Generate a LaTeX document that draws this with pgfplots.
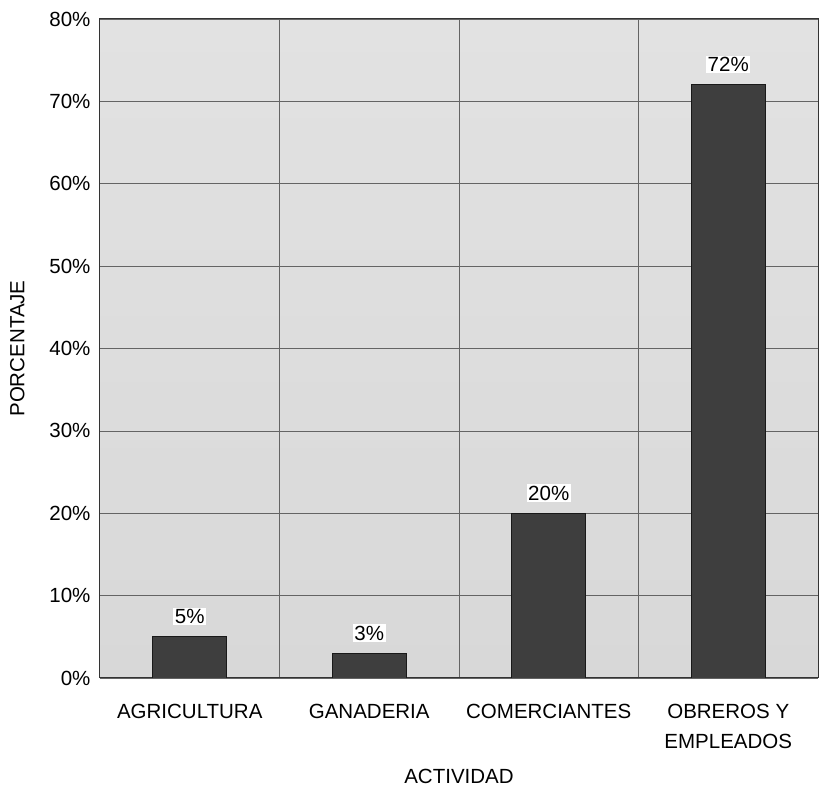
\documentclass[border=0pt]{standalone}
\usepackage{pgfplots}
\pgfplotsset{compat=1.18}
\usepackage{fontspec}
\setmainfont{Liberation Sans}
\definecolor{bgtop}{RGB}{226,226,226}
\definecolor{bgbot}{RGB}{216,216,216}
\definecolor{barc}{RGB}{62,62,62}
\definecolor{gridc}{RGB}{100,100,100}
\begin{document}
\begin{tikzpicture}
\useasboundingbox[fill=white] (-100pt,-114pt) rectangle (723pt,678pt);
\begin{axis}[
  scale only axis,
  width=718pt, height=659pt,
  xmin=0.5, xmax=4.5,
  ymin=0, ymax=80,
  ytick={0,10,...,80},
  yticklabel={\pgfmathprintnumber{\tick}\%},
  xtick={1,2,3,4},
  xticklabels={AGRICULTURA,GANADERIA,COMERCIANTES,{OBREROS Y\\EMPLEADOS}},
  xticklabel style={align=center, anchor=north, yshift=-23pt},
  yticklabel style={xshift=-6pt},
  minor xtick={1.5,2.5,3.5},
  major tick length=0pt, minor tick length=0pt,
  ymajorgrids, xminorgrids,
  major grid style={gridc, line width=0.7pt},
  minor grid style={gridc, line width=0.7pt},
  axis line style={black!80, line width=1pt},
  axis background/.style={top color=bgtop, bottom color=bgbot},
  font=\fontsize{20.5}{29.5}\selectfont,
  /pgf/number format/assume math mode=true,
  xlabel={ACTIVIDAD},
  ylabel={PORCENTAJE},
  xlabel style={yshift=-14pt},
  ylabel style={yshift=18pt},
  ybar, bar width=74pt,
  nodes near coords={\pgfmathprintnumber{\pgfplotspointmeta}\%},
  every node near coord/.style={anchor=south, yshift=11pt, fill=white, inner sep=1.5pt, font=\fontsize{20.5}{24}\selectfont},
]
\addplot[fill=barc, draw=black!90, line width=0.8pt] coordinates {(1,5) (2,3) (3,20) (4,72)};
\end{axis}
\end{tikzpicture}
\end{document}
